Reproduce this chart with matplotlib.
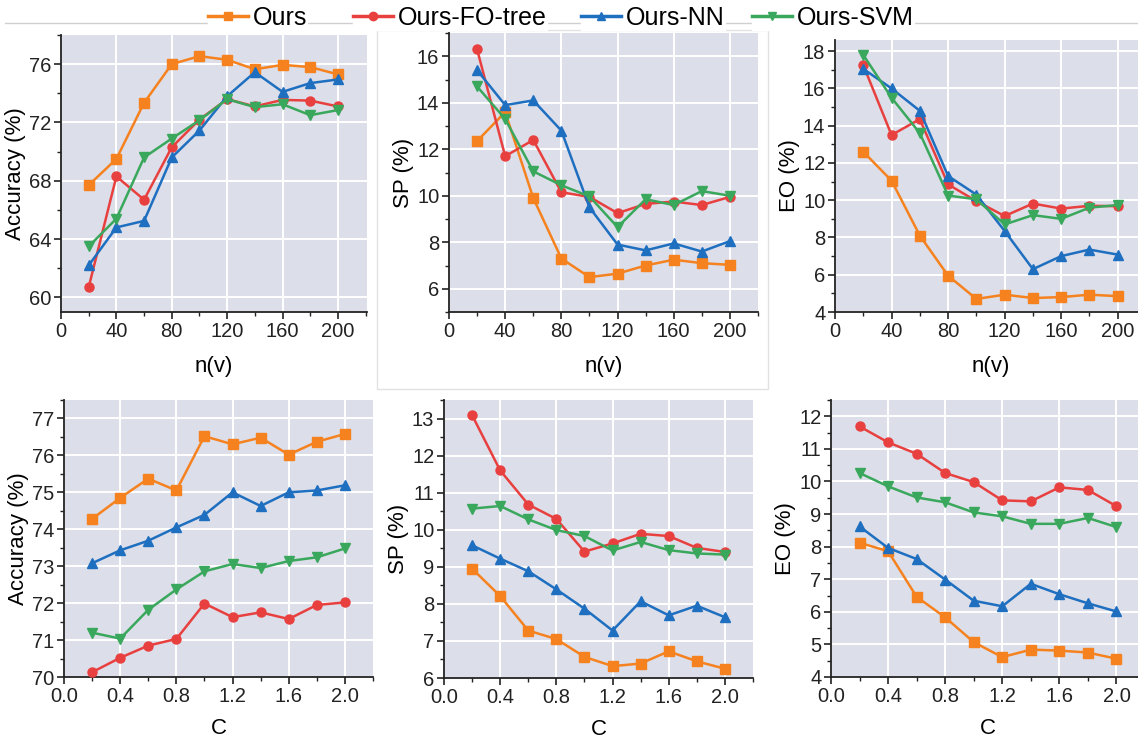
import matplotlib.pyplot as plt
from matplotlib.lines import Line2D
from matplotlib.patches import Rectangle
from matplotlib.ticker import MultipleLocator

plt.rcParams['font.family'] = ['Liberation Sans Narrow', 'Liberation Sans', 'DejaVu Sans']

# ---------------------------
# données
# ---------------------------
nv = [20, 40, 60, 80, 100, 120, 140, 160, 180, 200]
c_vals = [0.2, 0.4, 0.6, 0.8, 1.0, 1.2, 1.4, 1.6, 1.8, 2.0]

methods = ["Ours", "Ours-FO-tree", "Ours-NN", "Ours-SVM"]

acc_nv_ours = [67.7, 69.5, 73.35, 76.0, 76.55, 76.3, 75.65, 75.95, 75.8, 75.3]
acc_nv_fo = [60.7, 68.3, 66.7, 70.3, 72.2, 73.6, 73.1, 73.55, 73.5, 73.1]
acc_nv_nn = [62.2, 64.8, 65.25, 69.6, 71.45, 73.8, 75.45, 74.1, 74.7, 74.95]
acc_nv_svm = [63.5, 65.4, 69.6, 70.9, 72.15, 73.6, 73.05, 73.25, 72.5, 72.85]

sp_nv_ours = [12.35, 13.6, 9.9, 7.3, 6.5, 6.65, 7.0, 7.25, 7.1, 7.03]
sp_nv_fo = [16.3, 11.7, 12.4, 10.15, 9.95, 9.25, 9.65, 9.75, 9.6, 9.95]
sp_nv_nn = [15.4, 13.9, 14.1, 12.8, 9.5, 7.9, 7.65, 7.95, 7.6, 8.05]
sp_nv_svm = [14.7, 13.3, 11.05, 10.45, 9.97, 8.65, 9.85, 9.6, 10.2, 10.0]

eo_nv_ours = [12.6, 11.05, 8.1, 5.95, 4.7, 4.93, 4.75, 4.8, 4.93, 4.85]
eo_nv_fo = [17.25, 13.5, 14.35, 10.85, 9.95, 9.15, 9.82, 9.55, 9.7, 9.68]
eo_nv_nn = [17.05, 16.0, 14.8, 11.3, 10.3, 8.35, 6.3, 7.0, 7.35, 7.08]
eo_nv_svm = [17.8, 15.5, 13.6, 10.25, 10.05, 8.7, 9.2, 9.0, 9.6, 9.74]

acc_c_ours = [74.28, 74.85, 75.37, 75.05, 76.52, 76.3, 76.48, 76.02, 76.37, 76.58]
acc_c_fo = [70.13, 70.52, 70.85, 71.03, 71.99, 71.62, 71.75, 71.57, 71.95, 72.02]
acc_c_nn = [73.08, 73.43, 73.69, 74.05, 74.39, 75.0, 74.63, 75.0, 75.05, 75.19]
acc_c_svm = [71.2, 71.04, 71.82, 72.37, 72.86, 73.06, 72.95, 73.14, 73.24, 73.48]

sp_c_ours = [8.95, 8.21, 7.28, 7.05, 6.57, 6.32, 6.39, 6.72, 6.45, 6.25]
sp_c_fo = [13.09, 11.6, 10.68, 10.29, 9.41, 9.63, 9.89, 9.83, 9.51, 9.4]
sp_c_nn = [9.58, 9.22, 8.88, 8.39, 7.87, 7.28, 8.07, 7.69, 7.95, 7.64]
sp_c_svm = [10.57, 10.64, 10.28, 9.99, 9.83, 9.44, 9.67, 9.45, 9.36, 9.33]

eo_c_ours = [8.12, 7.86, 6.46, 5.83, 5.07, 4.61, 4.84, 4.81, 4.75, 4.56]
eo_c_fo = [11.69, 11.2, 10.85, 10.26, 9.98, 9.42, 9.39, 9.82, 9.74, 9.24]
eo_c_nn = [8.62, 7.96, 7.62, 6.99, 6.34, 6.17, 6.86, 6.54, 6.26, 6.01]
eo_c_svm = [10.26, 9.85, 9.51, 9.36, 9.05, 8.93, 8.7, 8.7, 8.88, 8.6]

# ---------------------------
# style
# ---------------------------
colors = ["#f5821f", "#e8403f", "#1f6fc0", "#3aa85c"]
markers = ["s", "o", "^", "v"]
bg = "#dcdee9"

W, H = 1138, 740
fig = plt.figure(figsize=(W / 100, H / 100), dpi=100)

# cadre gris clair autour du panneau central du haut (derrière les axes)
fig.add_artist(Rectangle((377 / W, 1 - 389 / H), 391 / W, 359 / H,
                         transform=fig.transFigure, facecolor="white",
                         edgecolor="#e2e2e2", lw=1.0, zorder=-5))


def make_ax(left, top, right, bottom):
    return fig.add_axes([left / W, 1 - bottom / H, (right - left) / W, (bottom - top) / H])


panels = [
    # (box px, x, series, xlabel, ylabel, xlim, xmajor, xminor, ylim, ymajor, yminor)
    ((61, 35, 367, 312), nv, [acc_nv_ours, acc_nv_fo, acc_nv_nn, acc_nv_svm],
     "n(v)", "Accuracy (%)", (0, 221), 40, 20, (59, 78), 4, 2),
    ((449, 33, 758, 312), nv, [sp_nv_ours, sp_nv_fo, sp_nv_nn, sp_nv_svm],
     "n(v)", "SP (%)", (0, 220), 40, 20, (5, 17), 2, 1),
    ((835, 40, 1146, 312), nv, [eo_nv_ours, eo_nv_fo, eo_nv_nn, eo_nv_svm],
     "n(v)", "EO (%)", (0, 220), 40, 20, (4, 18.6), 2, 1),
    ((64, 400, 373, 677), c_vals, [acc_c_ours, acc_c_fo, acc_c_nn, acc_c_svm],
     "C", "Accuracy (%)", (0, 2.2), 0.4, 0.2, (70, 77.5), 1, 0.5),
    ((444, 400, 753, 678), c_vals, [sp_c_ours, sp_c_fo, sp_c_nn, sp_c_svm],
     "C", "SP (%)", (0, 2.2), 0.4, 0.2, (6, 13.5), 1, 0.5),
    ((831, 400, 1145, 677), c_vals, [eo_c_ours, eo_c_fo, eo_c_nn, eo_c_svm],
     "C", "EO (%)", (0, 2.2), 0.4, 0.2, (4, 12.5), 1, 0.5),
]

for i, (box, x, series, xlab, ylab, xlim, xmaj, xmin, ylim, ymaj, ymin) in enumerate(panels):
    ax = make_ax(*box)
    ax.set_facecolor(bg)
    for y, col, mk in zip(series, colors, markers):
        ax.plot(x, y, color=col, marker=mk, lw=1.8, markersize=6.5, clip_on=False, zorder=3)
    ax.set_xlim(*xlim)
    ax.set_ylim(*ylim)
    ax.xaxis.set_major_locator(MultipleLocator(xmaj))
    ax.xaxis.set_minor_locator(MultipleLocator(xmin))
    ax.yaxis.set_major_locator(MultipleLocator(ymaj))
    ax.yaxis.set_minor_locator(MultipleLocator(ymin))
    if xmaj < 1:
        ax.xaxis.set_major_formatter(plt.FormatStrFormatter("%.1f"))
    ax.grid(True, which="major", color="white", lw=1.4, zorder=0)
    ax.set_axisbelow(True)
    for side in ["top", "right"]:
        ax.spines[side].set_visible(False)
    for side in ["left", "bottom"]:
        ax.spines[side].set_linewidth(1.3)
        ax.spines[side].set_color("#222222")
    ax.tick_params(which="major", direction="out", length=5, width=1.2, labelsize=14.5,
                   colors="#222222", pad=2)
    ax.tick_params(which="minor", direction="out", length=3, width=1.0, colors="#222222")
    ax.set_xlabel(xlab, fontsize=16, labelpad=11 if i < 3 else 9)
    ax.set_ylabel(ylab, fontsize=16, labelpad=2)

# légende : une entrée par boîte blanche posée sur une ligne grise
fig.add_artist(Line2D([5 / W, 1], [1 - 23 / H, 1 - 23 / H], color="#cfcfcf", lw=1.0,
                      transform=fig.transFigure, zorder=1))
leg_x = [208, 353, 581, 752]
for name, col, mk, lx in zip(methods, colors, markers, leg_x):
    h = Line2D([], [], color=col, marker=mk, lw=2.5, markersize=6)
    fig.legend([h], [name], loc="center left", bbox_to_anchor=(lx / W, 1 - 18 / H),
               frameon=True, facecolor="white", edgecolor="white", framealpha=1,
               fontsize=18, handlelength=1.6, handletextpad=0.2, borderpad=0.0,
               borderaxespad=0, fancybox=False)

fig.savefig("out.png", dpi=100)
